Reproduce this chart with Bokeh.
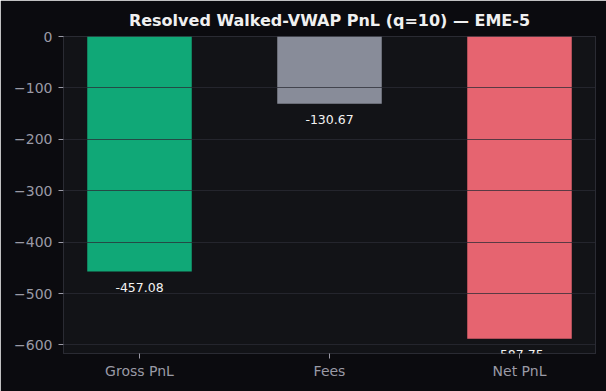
from bokeh.plotting import figure
from bokeh.models import FixedTicker, ColumnDataSource, Range1d, Label
from bokeh.embed import file_html
from bokeh.resources import INLINE

categories = ["Gross PnL", "Fees", "Net PnL"]
values = [-457.08, -130.67, -587.75]
colors = ["#10a877", "#888c99", "#e66470"]
y_ticks = [0, -100, -200, -300, -400, -500, -600]

xs = list(range(len(categories)))
src = ColumnDataSource(dict(
    x=xs, top=[0] * len(values), bottom=values, color=colors,
))

p = figure(width=606, height=391, output_backend="svg", toolbar_location=None,
           x_range=Range1d(-0.4, 2.4), y_range=Range1d(-616.6, 0),
           min_border_left=63, min_border_right=11, min_border_top=36, min_border_bottom=38,
           title="Resolved Walked-VWAP PnL (q=10) \u2014 EME-5")

p.background_fill_color = "#121317"
p.border_fill_color = "#0b0b0f"
p.outline_line_color = "#2a2b33"

p.title.align = "center"
p.title.text_color = "#f0f0f0"
p.title.text_font = "DejaVu Sans"
p.title.text_font_size = "16px"
p.title.text_font_style = "bold"
p.title.standoff = 14

p.vbar(x="x", top="top", bottom="bottom", width=0.55, color="color", line_color=None, source=src)

for xv, v in zip(xs, values):
    p.add_layout(Label(x=xv, y=v, text=f"{v:.2f}", text_align="center",
                       text_baseline="middle", y_offset=-16, text_color="#f2f2f2",
                       text_font="DejaVu Sans", text_font_size="12.5px", level="overlay"))

p.xaxis.ticker = FixedTicker(ticks=xs)
p.xaxis.major_label_overrides = {i: c for i, c in enumerate(categories)}
p.yaxis.ticker = FixedTicker(ticks=y_ticks)
p.yaxis.major_label_overrides = {t: (str(t).replace("-", "\u2212")) for t in y_ticks}

for ax in (p.xaxis, p.yaxis):
    ax.axis_line_color = "#2a2b33"
    ax.major_tick_line_color = "#9a9aa6"
    ax.major_tick_out = 5
    ax.major_tick_in = 0
    ax.minor_tick_line_color = None
    ax.major_label_text_color = "#9a9aa6"
    ax.major_label_text_font = "DejaVu Sans"
    ax.major_label_text_font_size = "14px"
p.xaxis.major_label_standoff = 4
p.yaxis.major_label_standoff = 6

p.xgrid.grid_line_color = None
p.ygrid.grid_line_color = "#2b2c36"
p.ygrid.grid_line_alpha = 0.75
p.ygrid.level = "overlay"

open("out.html", "w").write(file_html(p, INLINE))
